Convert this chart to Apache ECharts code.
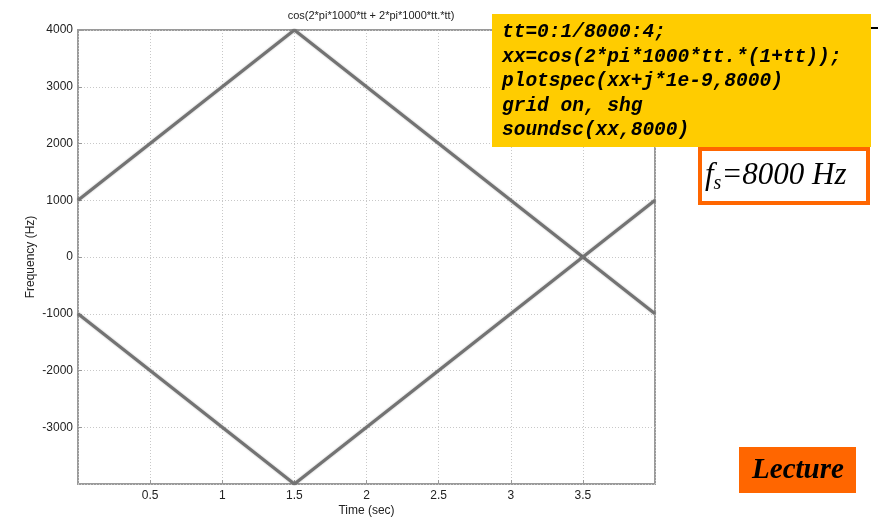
<!DOCTYPE html>
<html><head><meta charset="utf-8">
<script src="https://cdn.jsdelivr.net/npm/echarts@6/dist/echarts.min.js"></script>
<style>html,body{margin:0;padding:0;background:#fff}#c{width:878px;height:517px}</style>
</head><body><div id="c"></div>
<script>
const title = 'cos(2*pi*1000*tt + 2*pi*1000*tt.*tt)';
const xName = 'Time (sec)';
const yName = 'Frequency (Hz)';
// positive-frequency trace (aliased at 4000 Hz)
const posTime = [0, 1.5, 4];
const posFreq = [1000, 4000, -1000];
// negative-frequency trace
const negTime = [0, 1.5, 4];
const negFreq = [-1000, -4000, 1000];
const codeLines = [
  'tt=0:1/8000:4;',
  'xx=cos(2*pi*1000*tt.*(1+tt));',
  'plotspec(xx+j*1e-9,8000)',
  'grid on, shg',
  'soundsc(xx,8000)'
];

const chart = echarts.init(document.getElementById('c'));
const lineStyle = {color: '#737373', width: 3, shadowColor: 'rgba(0,0,0,0.3)', shadowBlur: 2};
const lbl = {fontFamily: 'Liberation Sans, Arial', fontSize: 12, color: '#222'};
chart.setOption({
  animation: false,
  title: {text: title, left: 366, top: 5, textAlign: 'center',
    textStyle: {fontFamily: 'Liberation Sans, Arial', fontSize: 11, fontWeight: 'normal', color: '#222'}},
  grid: {left: 78, right: 223, top: 30, bottom: 33, show: true, borderColor: '#9a9a9a', borderWidth: 2,
    containLabel: false, outerBoundsMode: 'none'},
  xAxis: {type: 'value', min: 0, max: 4, interval: 0.5, name: xName, nameLocation: 'middle', nameGap: 21,
    nameMoveOverlap: false, nameTextStyle: lbl,
    axisLine: {show: false, onZero: false}, axisTick: {inside: true, length: 4, lineStyle: {color: '#999'}},
    axisLabel: Object.assign({showMinLabel: false, showMaxLabel: false, margin: 6}, lbl),
    splitLine: {show: true, lineStyle: {color: '#c8c8c8', type: [1, 2], width: 1}}},
  yAxis: {type: 'value', min: -4000, max: 4000, interval: 1000, name: yName, nameLocation: 'middle', nameGap: 41,
    nameMoveOverlap: false, nameTextStyle: lbl,
    axisLine: {show: false, onZero: false}, axisTick: {inside: true, length: 4, lineStyle: {color: '#999'}},
    axisLabel: Object.assign({showMinLabel: false, margin: 5, formatter: v => String(v)}, lbl),
    splitLine: {show: true, lineStyle: {color: '#c8c8c8', type: [1, 2], width: 1}}},
  series: [
    {type: 'line', data: posTime.map((t, i) => [t, posFreq[i]]), showSymbol: false, lineStyle: lineStyle},
    {type: 'line', data: negTime.map((t, i) => [t, negFreq[i]]), showSymbol: false, lineStyle: lineStyle}
  ],
  graphic: [
    {type: 'line', z: 100, shape: {x1: 862, y1: 28, x2: 878, y2: 28}, style: {stroke: '#000', lineWidth: 2}},
    {type: 'rect', z: 100, shape: {x: 492, y: 14, width: 379, height: 133}, style: {fill: '#FFCC00'}},
    {type: 'text', z: 101, left: 502, top: 20, style: {text: codeLines.join('\n'), fill: '#000',
      font: 'italic bold 19.5px "Liberation Mono", "Courier New", monospace', lineHeight: 24.5}},
    {type: 'rect', z: 100, shape: {x: 700, y: 149, width: 168, height: 54}, style: {fill: '#fff', stroke: '#FF6600', lineWidth: 4}},
    {type: 'text', z: 101, x: 705, y: 176, style: {
      text: '{f|f}{s|s}{t|=8000 Hz}', verticalAlign: 'middle',
      rich: {
        f: {fontFamily: 'Liberation Serif, Times New Roman', fontStyle: 'italic', fontSize: 31, fill: '#000'},
        s: {fontFamily: 'Liberation Serif, Times New Roman', fontStyle: 'italic', fontSize: 20, fill: '#000', padding: [16, 0, 0, 0]},
        t: {fontFamily: 'Liberation Serif, Times New Roman', fontStyle: 'italic', fontSize: 31, fill: '#000'}
      }}},
    {type: 'rect', z: 100, shape: {x: 739, y: 447, width: 117, height: 46}, style: {fill: '#FF6600'}},
    {type: 'text', z: 101, x: 798, y: 471, style: {text: 'Lecture', fill: '#000', align: 'center', verticalAlign: 'middle',
      font: 'italic bold 29px "Liberation Serif", "Times New Roman", serif'}}
  ]
});
</script></body></html>
